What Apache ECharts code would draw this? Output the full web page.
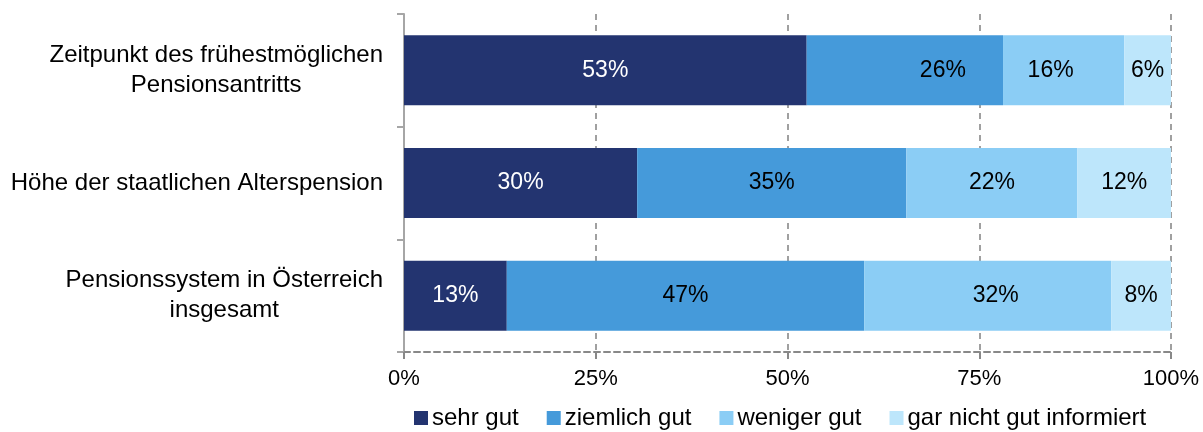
<!DOCTYPE html>
<html>
<head>
<meta charset="utf-8">
<script src="https://cdn.jsdelivr.net/npm/echarts@6/dist/echarts.min.js"></script>
<style>html,body{margin:0;padding:0;background:#fff;}#c{width:1203px;height:432px;}</style>
</head>
<body>
<div id="c"></div>
<script>
var categories = ['Zeitpunkt des frühestmöglichen\nPensionsantritts', 'Höhe der staatlichen Alterspension', 'Pensionssystem in Österreich\ninsgesamt'];
var seriesNames = ['sehr gut', 'ziemlich gut', 'weniger gut', 'gar nicht gut informiert'];
var sehrGut = [52.5, 30.4, 13.4];
var ziemlichGut = [25.6, 35.1, 46.6];
var wenigerGut = [15.8, 22.3, 32.2];
var garNichtGut = [6.1, 12.2, 7.8];
var xTicks = [0, 25, 50, 75, 100];

var colors = ['#233470', '#459ADA', '#8BCDF5', '#BDE6FB'];
var labelColors = ['#ffffff', '#000000', '#000000', '#000000'];
// horizontal nudges of some value labels, as placed in the original
var labelShift = [[0, 0, 0], [38, 0, 0], [-13, 0, 8], [0, 0, 0]];
var FONT = 'Liberation Sans, Arial, sans-serif';

var allData = [sehrGut, ziemlichGut, wenigerGut, garNichtGut];
var series = allData.map(function (arr, si) {
  return {
    name: seriesNames[si],
    type: 'bar',
    stack: 'total',
    barWidth: 70,
    itemStyle: { color: colors[si] },
    label: {
      show: true,
      position: 'inside',
      color: labelColors[si],
      fontFamily: FONT,
      fontSize: 23,
      formatter: function (p) { return Math.round(p.value) + '%'; }
    },
    data: arr.map(function (v, i) {
      return { value: v, label: { offset: [labelShift[si][i], 0] } };
    })
  };
});

var chart = echarts.init(document.getElementById('c'), null, { renderer: 'canvas' });
chart.setOption({
  animation: false,
  color: colors,
  grid: { left: 404, right: 32, top: 14, bottom: 80, containLabel: false },
  legend: {
    left: 414,
    top: 406,
    padding: 0,
    itemWidth: 14,
    itemHeight: 14,
    itemGap: 28,
    icon: 'rect',
    textStyle: { fontFamily: FONT, fontSize: 24, color: '#000', padding: [0, 0, 0, -1] },
    data: seriesNames
  },
  xAxis: {
    type: 'value',
    min: xTicks[0],
    max: xTicks[xTicks.length - 1],
    interval: xTicks[1] - xTicks[0],
    axisLine: { show: true, lineStyle: { color: '#888888', width: 2, type: [6, 4] } },
    axisTick: { show: true, length: 7, lineStyle: { color: '#888888', width: 2 } },
    splitLine: { show: true, lineStyle: { color: '#a0a0a0', width: 2, type: [6, 5] } },
    axisLabel: {
      margin: 16,
      fontFamily: FONT,
      fontSize: 22,
      color: '#000',
      formatter: function (v) { return v + '%'; }
    }
  },
  yAxis: {
    type: 'category',
    inverse: true,
    data: categories,
    axisLine: { show: true, lineStyle: { color: '#a6a6a6', width: 2 } },
    axisTick: { show: true, length: 7, lineStyle: { color: '#a6a6a6', width: 2 } },
    axisLabel: {
      margin: 21,
      align: 'right',
      fontFamily: FONT,
      fontSize: 24,
      color: '#000',
      formatter: function (v) {
        return v.split('\n').map(function (s) { return '{c|' + s + '}'; }).join('\n');
      },
      rich: { c: { align: 'center', fontFamily: FONT, fontSize: 24, lineHeight: 30, color: '#000' } }
    }
  },
  series: series
});
</script>
</body>
</html>
